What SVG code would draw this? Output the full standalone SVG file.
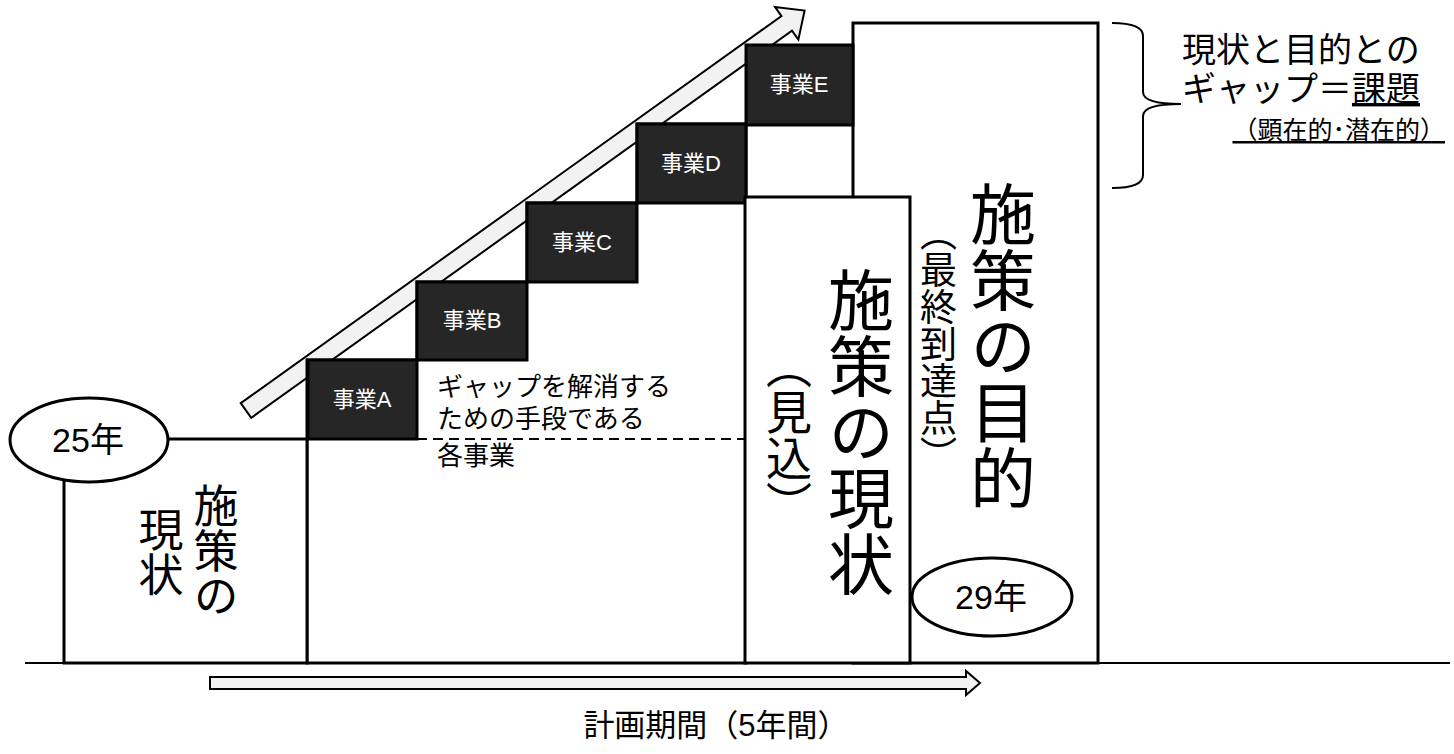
<svg xmlns="http://www.w3.org/2000/svg" width="1454" height="754" viewBox="0 0 1454 754">
<style>
.box{fill:#fff;stroke:#000;stroke-width:3}
.dark{fill:#262626;stroke:#000;stroke-width:3}
.t{font-family:"Liberation Sans","Noto Sans CJK JP",sans-serif;fill:#000}
.w{fill:#fff;font-size:22px;text-anchor:middle}
.v{writing-mode:vertical-rl;text-anchor:middle}
.arrow{fill:#f2f2f2;stroke:#000;stroke-width:2;stroke-linejoin:miter}
.ln{fill:none;stroke:#000;stroke-width:2}
</style>
<rect width="1454" height="754" fill="#fff"/>
<g id="connectors">
  <polygon class="arrow" transform="translate(246,410.5) rotate(-35.6)" points="0,-9 665,-9 665,-20 687,0 665,20 665,9 0,9"/>
  <line class="ln" x1="25" y1="663" x2="1450" y2="663"/>
  <polygon class="arrow" points="210,677 966,677 966,671 980,683 966,695 966,689 210,689"/>
  <line class="ln" x1="417" y1="439" x2="745" y2="439" stroke-dasharray="10,6"/>
  <path class="ln" d="M1112,23 Q1143,23 1143,36 L1143,92 Q1143,104 1181,104 Q1143,104 1143,116 L1143,175 Q1143,188 1112,188"/>
</g>
<g id="goal">
  <rect class="box" x="853" y="23" width="245" height="640"/>
  <text class="t v" x="997" y="346" font-size="66">施策の目的</text>
  <text class="t v" x="935" y="344" font-size="37">（最終到達点）</text>
</g>
<g id="gap-area">
  <polygon points="307,663 307,360 417,360 417,282 527,282 527,203 637,203 637,124 746,124 746,663" fill="none" stroke="#000" stroke-width="3"/>
</g>
<g id="jigyo-a">
  <rect class="dark" x="308" y="360" width="109" height="79"/>
  <text class="t w" x="362" y="407">事業A</text>
</g>
<g id="jigyo-b">
  <rect class="dark" x="417" y="282" width="110" height="78"/>
  <text class="t w" x="472" y="328">事業B</text>
</g>
<g id="jigyo-c">
  <rect class="dark" x="527" y="203" width="110" height="79"/>
  <text class="t w" x="582" y="250">事業C</text>
</g>
<g id="jigyo-d">
  <rect class="dark" x="637" y="124" width="109" height="79"/>
  <text class="t w" x="691" y="171">事業D</text>
</g>
<g id="jigyo-e">
  <rect class="dark" x="746" y="45" width="107" height="80"/>
  <text class="t w" x="799" y="92">事業E</text>
</g>
<g id="current-forecast">
  <rect class="box" x="745" y="197" width="165" height="466"/>
  <text class="t v" x="855" y="432" font-size="66">施策の現状</text>
  <text class="t v" x="785" y="435" font-size="46">（見込）</text>
</g>
<g id="current">
  <rect class="box" x="64" y="439" width="243" height="224"/>
  <text class="t v" font-size="45"><tspan x="212" y="551">施策の</tspan><tspan x="157" y="552">現状</tspan></text>
</g>
<g id="year25">
  <ellipse cx="89" cy="440" rx="79" ry="42" fill="#fff" stroke="#000" stroke-width="3"/>
  <text class="t" x="88" y="452" font-size="34" text-anchor="middle">25年</text>
</g>
<g id="year29">
  <ellipse cx="992" cy="597" rx="80" ry="39" fill="#fff" stroke="#000" stroke-width="3"/>
  <text class="t" x="991" y="609" font-size="34" text-anchor="middle">29年</text>
</g>
<g id="means-label">
  <text class="t" font-size="26"><tspan x="437" y="396">ギャップを解消する</tspan><tspan x="437" y="428">ための手段である</tspan><tspan x="437" y="465">各事業</tspan></text>
</g>
<g id="gap-label">
  <text class="t" font-size="34"><tspan x="1182" y="62">現状と目的との</tspan><tspan x="1182" y="101">ギャップ＝<tspan text-decoration="underline">課題</tspan></tspan></text>
  <text class="t" x="1445" y="139" font-size="25" text-anchor="end" text-decoration="underline">（顕在的･潜在的）</text>
</g>
<g id="period-label">
  <text class="t" x="716" y="736" font-size="31" text-anchor="middle">計画期間（5年間）</text>
</g>
</svg>
